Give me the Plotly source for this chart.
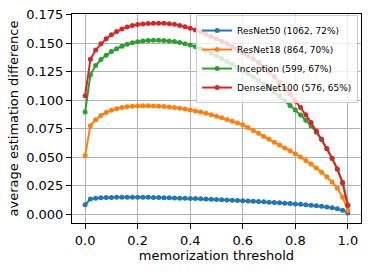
import plotly.graph_objects as go

thresholds = [0.00, 0.02, 0.04, 0.06, 0.08, 0.10, 0.12, 0.14, 0.16, 0.18,
              0.20, 0.22, 0.24, 0.26, 0.28, 0.30, 0.32, 0.34, 0.36, 0.38,
              0.40, 0.42, 0.44, 0.46, 0.48, 0.50, 0.52, 0.54, 0.56, 0.58,
              0.60, 0.62, 0.64, 0.66, 0.68, 0.70, 0.72, 0.74, 0.76, 0.78,
              0.80, 0.82, 0.84, 0.86, 0.88, 0.90, 0.92, 0.94, 0.96, 0.98, 1.00]

resnet50 = [0.0083, 0.0133, 0.0140, 0.0144, 0.0146, 0.0147, 0.0148, 0.0149, 0.0149, 0.0149,
            0.0149, 0.0148, 0.0148, 0.0147, 0.0146, 0.0145, 0.0144, 0.0143, 0.0141, 0.0140,
            0.0138, 0.0137, 0.0135, 0.0133, 0.0131, 0.0129, 0.0127, 0.0125, 0.0123, 0.0121,
            0.0119, 0.0117, 0.0114, 0.0112, 0.0109, 0.0106, 0.0103, 0.0100, 0.0097, 0.0094,
            0.0090, 0.0087, 0.0083, 0.0079, 0.0074, 0.0069, 0.0063, 0.0056, 0.0047, 0.0035, 0.0010]

resnet18 = [0.0515, 0.0776, 0.0828, 0.0866, 0.0893, 0.0912, 0.0926, 0.0936, 0.0943, 0.0947,
            0.0950, 0.0951, 0.0951, 0.0950, 0.0948, 0.0945, 0.0941, 0.0936, 0.0930, 0.0923,
            0.0915, 0.0906, 0.0896, 0.0885, 0.0873, 0.0860, 0.0846, 0.0831, 0.0816, 0.0800,
            0.0785, 0.0760, 0.0735, 0.0710, 0.0683, 0.0657, 0.0632, 0.0607, 0.0582, 0.0556,
            0.0530, 0.0502, 0.0472, 0.0440, 0.0405, 0.0368, 0.0328, 0.0283, 0.0228, 0.0150, 0.0033]

inception = [0.0896, 0.1223, 0.1304, 0.1357, 0.1395, 0.1427, 0.1453, 0.1474, 0.1491, 0.1504,
             0.1514, 0.1521, 0.1525, 0.1527, 0.1527, 0.1525, 0.1521, 0.1515, 0.1507, 0.1497,
             0.1485, 0.1470, 0.1453, 0.1434, 0.1413, 0.1390, 0.1366, 0.1341, 0.1315, 0.1288,
             0.1262, 0.1235, 0.1205, 0.1173, 0.1140, 0.1105, 0.1070, 0.1035, 0.0995, 0.0955,
             0.0915, 0.0870, 0.0825, 0.0775, 0.0720, 0.0655, 0.0575, 0.0490, 0.0395, 0.0275, 0.0080]

densenet100 = [0.1040, 0.1360, 0.1440, 0.1495, 0.1540, 0.1575, 0.1603, 0.1625, 0.1642, 0.1655,
               0.1664, 0.1670, 0.1674, 0.1676, 0.1676, 0.1675, 0.1672, 0.1666, 0.1657, 0.1645,
               0.1631, 0.1616, 0.1598, 0.1580, 0.1560, 0.1540, 0.1518, 0.1495, 0.1471, 0.1446,
               0.1420, 0.1392, 0.1363, 0.1332, 0.1290, 0.1250, 0.1207, 0.1155, 0.1105, 0.1053,
               0.0994, 0.0936, 0.0872, 0.0804, 0.0731, 0.0659, 0.0577, 0.0492, 0.0396, 0.0279, 0.0077]

series_names = ["ResNet50 (1062, 72%)", "ResNet18 (864, 70%)",
                "Inception (599, 67%)", "DenseNet100 (576, 65%)"]
series_values = [resnet50, resnet18, inception, densenet100]
colors = ["#1f77b4", "#ff7f0e", "#2ca02c", "#d62728"]

x_ticks = [0.0, 0.2, 0.4, 0.6, 0.8, 1.0]
y_ticks = [0.000, 0.025, 0.050, 0.075, 0.100, 0.125, 0.150, 0.175]

fig = go.Figure()
for name, vals, c in zip(series_names, series_values, colors):
    fig.add_trace(go.Scatter(
        x=thresholds, y=vals, name=name, mode="lines+markers",
        line=dict(color=c, width=2),
        marker=dict(color=c, size=5),
    ))

font = "DejaVu Sans, sans-serif"
axis_common = dict(
    showline=True, mirror=True, linecolor="black", linewidth=1,
    ticks="outside", ticklen=5, tickwidth=1, tickcolor="black",
    showgrid=True, gridcolor="#b0b0b0", gridwidth=1, zeroline=False,
    tickfont=dict(family=font, size=13, color="black"),
    automargin=False,
)

fig.update_layout(
    width=374, height=272,
    margin=dict(l=72, r=13, t=14, b=49),
    paper_bgcolor="white", plot_bgcolor="white",
    font=dict(family=font, color="black"),
    xaxis=dict(range=[-0.05, 1.05], tickvals=x_ticks,
               ticktext=[f"{v:.1f}" for v in x_ticks],
               title=dict(text="memorization threshold",
                          font=dict(family=font, size=13), standoff=2),
               **axis_common),
    yaxis=dict(range=[-0.0077, 0.1757], tickvals=y_ticks,
               ticktext=[f"{v:.3f}" for v in y_ticks],
               title=dict(text="average estimation difference",
                          font=dict(family=font, size=13), standoff=4),
               **axis_common),
    legend=dict(x=0.99, xanchor="right", y=0.995, yanchor="top",
                bgcolor="rgba(255,255,255,0.8)", bordercolor="#cccccc",
                borderwidth=1, font=dict(family=font, size=9),
                itemwidth=30, tracegroupgap=0),
    showlegend=True,
)

fig.write_html("out.html", config={"displayModeBar": False},
               post_script="document.body.style.margin='0';document.body.style.overflow='hidden';")
